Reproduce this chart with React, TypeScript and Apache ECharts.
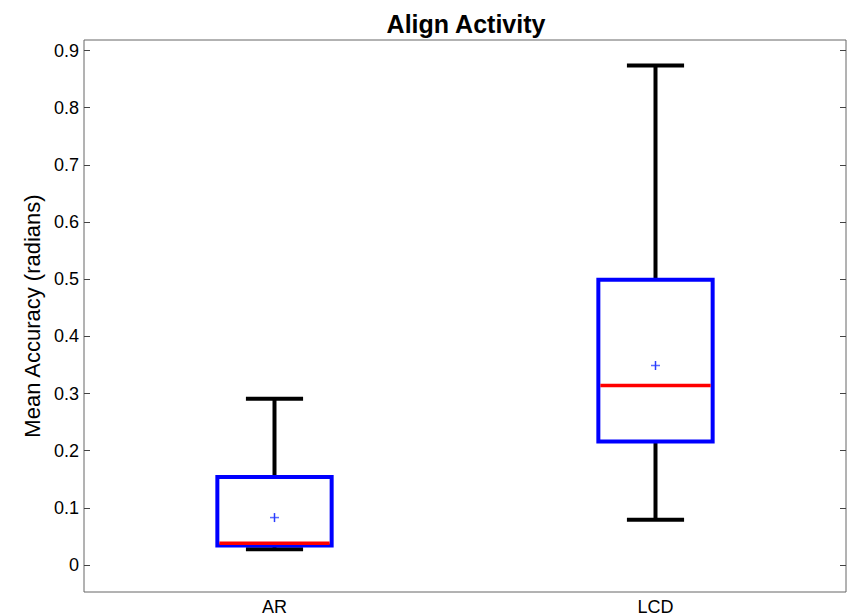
import React, { useEffect, useRef } from "react";
import * as echarts from "echarts";

const categories = ["AR", "LCD"];
const whiskerLow = [0.0275, 0.079];
const q1 = [0.034, 0.216];
const median = [0.038, 0.314];
const q3 = [0.154, 0.499];
const whiskerHigh = [0.291, 0.874];
const means = [0.083, 0.349];
const yTicks = [0, 0.1, 0.2, 0.3, 0.4, 0.5, 0.6, 0.7, 0.8, 0.9];
const yMin = -0.0472;
const yMax = 0.9184;

const FONT = "'Liberation Sans', Arial, sans-serif";

export default function App() {
  const ref = useRef<HTMLDivElement>(null);
  useEffect(() => {
    if (!ref.current) return;
    const chart = echarts.init(ref.current, undefined, { renderer: "svg" });
    const data = categories.map((_, i) => [i, whiskerLow[i], q1[i], median[i], q3[i], whiskerHigh[i], means[i]]);
    chart.setOption({
      animation: false,
      backgroundColor: "#fff",
      title: {
        text: "Align Activity",
        left: 461,
        textAlign: "center",
        top: 6,
        textStyle: { fontFamily: FONT, fontSize: 25, fontWeight: "bold", color: "#000" },
      },
      grid: {
        left: 84,
        right: 8,
        top: 40,
        bottom: 24,
        show: true,
        borderColor: "#666",
        borderWidth: 1,
        backgroundColor: "#fff",
      },
      xAxis: {
        type: "category",
        data: categories,
        boundaryGap: true,
        axisLine: { show: false },
        axisTick: { show: false },
        splitLine: { show: false },
        axisLabel: { fontFamily: FONT, fontSize: 18, color: "#000", margin: 6 },
      },
      yAxis: [
        {
          type: "value",
          min: yMin,
          max: yMax,
          position: "left",
          name: "Mean Accuracy (radians)",
          nameLocation: "middle",
          nameGap: 39,
          nameTextStyle: { fontFamily: FONT, fontSize: 22, color: "#000" },
          axisLine: { show: false },
          splitLine: { show: false },
          axisTick: { show: true, inside: true, length: 6, customValues: yTicks, lineStyle: { color: "#444" } },
          axisLabel: {
            customValues: yTicks,
            fontFamily: FONT,
            fontSize: 18,
            color: "#000",
            margin: 5,
            formatter: (v: number) => String(v),
          },
        },
        {
          type: "value",
          min: yMin,
          max: yMax,
          position: "right",
          axisLine: { show: false },
          splitLine: { show: false },
          axisTick: { show: true, inside: true, length: 6, customValues: yTicks, lineStyle: { color: "#444" } },
          axisLabel: { show: false },
        },
      ],
      series: [
        {
          type: "custom",
          data,
          clip: false,
          renderItem: (params: any, api: any) => {
            const idx = api.value(0);
            const lo = api.coord([idx, api.value(1)]);
            const b1 = api.coord([idx, api.value(2)]);
            const md = api.coord([idx, api.value(3)]);
            const b3 = api.coord([idx, api.value(4)]);
            const hi = api.coord([idx, api.value(5)]);
            const mn = api.coord([idx, api.value(6)]);
            const bw = api.size([1, 0])[0] * 0.3;
            const cw = bw / 2;
            const x = lo[0];
            const black = { stroke: "#000", lineWidth: 4 };
            return {
              type: "group",
              children: [
                { type: "line", shape: { x1: x, y1: hi[1], x2: x, y2: b3[1] }, style: black },
                { type: "line", shape: { x1: x - cw / 2, y1: hi[1], x2: x + cw / 2, y2: hi[1] }, style: black },
                { type: "line", shape: { x1: x, y1: lo[1], x2: x, y2: b1[1] }, style: black },
                { type: "line", shape: { x1: x - cw / 2, y1: lo[1], x2: x + cw / 2, y2: lo[1] }, style: black },
                {
                  type: "rect",
                  shape: { x: x - bw / 2, y: b3[1], width: bw, height: b1[1] - b3[1] },
                  style: { fill: "none", stroke: "#0000ff", lineWidth: 4 },
                },
                {
                  type: "line",
                  shape: { x1: x - bw / 2 + 2, y1: md[1], x2: x + bw / 2 - 2, y2: md[1] },
                  style: { stroke: "#ff0000", lineWidth: 3.5 },
                },
                { type: "line", shape: { x1: mn[0] - 4.5, y1: mn[1], x2: mn[0] + 4.5, y2: mn[1] }, style: { stroke: "#5a6cff", lineWidth: 1.5 } },
                { type: "line", shape: { x1: mn[0], y1: mn[1] - 4.5, x2: mn[0], y2: mn[1] + 4.5 }, style: { stroke: "#2a3cff", lineWidth: 1.5 } },
              ],
            };
          },
        },
      ],
    });
    return () => chart.dispose();
  }, []);
  return <div ref={ref} style={{ width: 854, height: 616, position: "absolute", left: 0, top: 0 }} />;
}
